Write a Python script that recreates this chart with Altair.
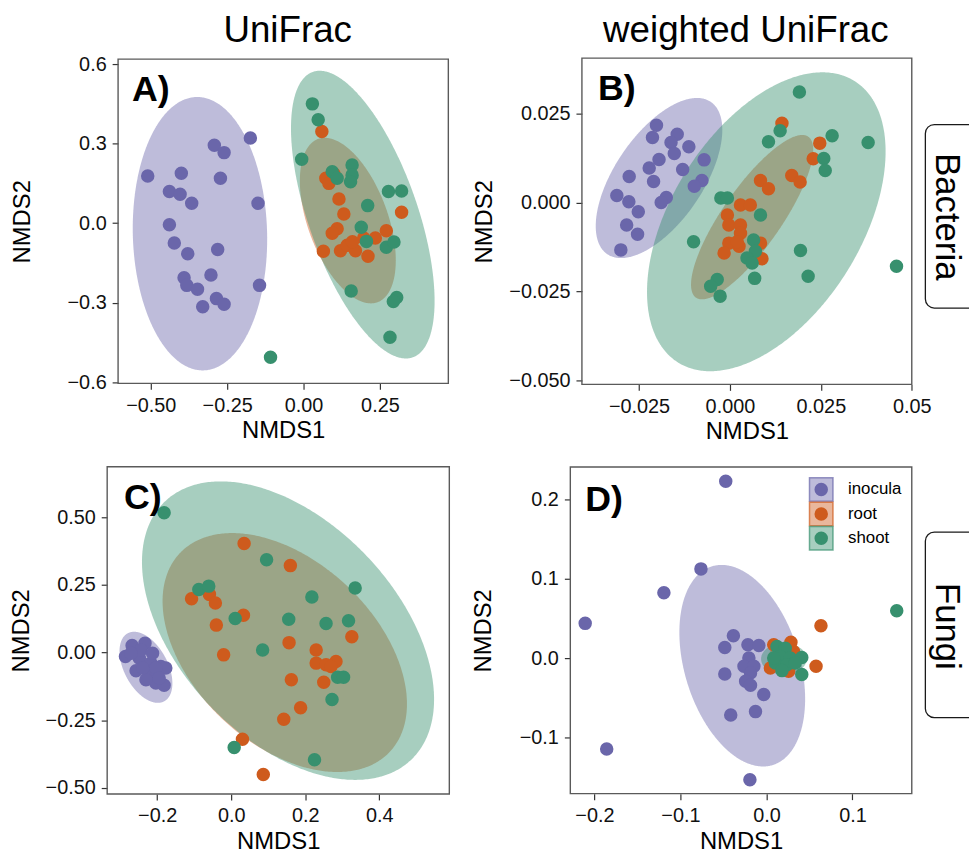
import altair as alt
import numpy as np
import pandas as pd

GROUPS = ["inocula", "root", "shoot"]
COLORS = ["#6A66AA", "#CE5B1D", "#37906E"]
FONT = "Liberation Sans"

# ---------------- Panel A (Bacteria, UniFrac) ----------------
A_inoc_x = [-0.510, -0.174, -0.292, -0.260, -0.400, -0.272, -0.439, -0.404, -0.366, -0.149, -0.439,
            -0.423, -0.379, -0.281, -0.391, -0.382, -0.347, -0.303, -0.144, -0.285, -0.260, -0.330]
A_inoc_y = [0.178, 0.321, 0.294, 0.266, 0.188, 0.169, 0.119, 0.109, 0.075, 0.075, -0.006,
            -0.075, -0.116, -0.100, -0.206, -0.235, -0.250, -0.196, -0.235, -0.285, -0.306, -0.316]
A_root_x = [0.060, 0.073, 0.083, 0.100, 0.116, 0.132, 0.110, 0.094, 0.321, 0.065, 0.121, 0.143,
            0.170, 0.211, 0.197, 0.235, 0.271, 0.160]
A_root_y = [0.346, 0.169, 0.150, 0.185, 0.091, 0.034, -0.021, -0.038, 0.041, -0.106, -0.104, -0.084,
            -0.104, -0.125, -0.056, -0.056, -0.029, -0.070]
A_shoot_x = [0.029, 0.048, -0.006, 0.094, 0.159, 0.159, 0.110, 0.154, 0.278, 0.321, 0.210, 0.189,
             0.206, 0.271, 0.296, 0.156, 0.305, 0.294, 0.283, -0.108]
A_shoot_y = [0.450, 0.390, 0.241, 0.194, 0.219, 0.181, 0.169, 0.156, 0.119, 0.121, 0.066, -0.016,
             -0.069, -0.091, -0.071, -0.256, -0.281, -0.296, -0.431, -0.506]

# ---------------- Panel B (Bacteria, weighted UniFrac) ----------------
B_inoc_x = [-0.0202, -0.0213, -0.0145, -0.0162, -0.0113, -0.0153, -0.0195, -0.0071, -0.0222, -0.0130, -0.0277,
            -0.0077, -0.0210, -0.0098, -0.0311, -0.0278, -0.0175, -0.0189, -0.0252, -0.0284, -0.0254, -0.0300]
B_inoc_y = [0.0217, 0.0183, 0.0192, 0.0169, 0.0157, 0.0138, 0.0121, 0.0120, 0.0097, 0.0093, 0.0073,
            0.0062, 0.0059, 0.0046, 0.0020, 0.0002, 0.0014, 0.0000, -0.0026, -0.0063, -0.0089, -0.0133]
B_root_x = [0.0143, 0.0247, 0.0229, 0.0084, 0.0106, 0.0170, 0.0193, 0.0029, 0.0056, -0.0007, -0.0003,
            0.0029, 0.0029, -0.0003, 0.0025, 0.0084, -0.0016, 0.0088, 0.0020]
B_root_y = [0.0223, 0.0167, 0.0123, 0.0062, 0.0039, 0.0076, 0.0058, -0.0007, -0.0007, -0.0035, -0.0063,
            -0.0063, -0.0086, -0.0114, -0.0123, -0.0114, -0.0142, -0.0158, -0.0110]
B_shoot_x = [0.0191, 0.0138, 0.0106, 0.0281, 0.0380, 0.0258, 0.0262, -0.0025, -0.0007, 0.0084, -0.0100,
             0.0065, 0.0194, 0.0070, 0.0047, 0.0061, 0.0458, 0.0215, 0.0068, -0.0035, -0.0053, -0.0027]
B_shoot_y = [0.0311, 0.0202, 0.0171, 0.0188, 0.0169, 0.0124, 0.0090, 0.0013, 0.0013, -0.0035, -0.0110,
             -0.0105, -0.0135, -0.0137, -0.0156, -0.0170, -0.0179, -0.0207, -0.0213, -0.0216, -0.0235, -0.0263]

# ---------------- Panel C (Fungi, UniFrac) ----------------
C_inoc_x = [-0.2856, -0.2677, -0.2329, -0.2481, -0.2169, -0.2570, -0.2213, -0.1901, -0.1767, -0.2035,
            -0.1812, -0.2303, -0.2436, -0.2704, -0.2124, -0.2035, -0.2392, -0.1946]
C_inoc_y = [-0.0146, 0.0256, 0.0342, -0.0207, -0.0390, -0.0671, -0.0817, -0.0512, -0.0573, -0.1122,
            -0.1208, -0.1000, 0.0098, -0.0024, -0.0024, -0.0573, -0.0573, -0.0939]
C_root_x = [0.0348, 0.1597, -0.1071, -0.0589, -0.0428, 0.0330, -0.0402, 0.1562, 0.3257, -0.0205, 0.2294,
            0.2294, 0.2561, 0.2829, 0.2695, 0.1624, 0.2499, 0.1874, 0.1419, 0.0303, 0.0866]
C_root_y = [0.4026, 0.3209, 0.1989, 0.2147, 0.1830, 0.1379, 0.1013, 0.0366, 0.0586, -0.0085, 0.0098,
            -0.0390, -0.0451, -0.0329, -0.0512, -0.1000, -0.1098, -0.2038, -0.2465, -0.3197, -0.4502]
C_shoot_x = [-0.1812, 0.0955, -0.0875, -0.0607, 0.0107, 0.2178, 0.3347, 0.1553, 0.2561, 0.3168, 0.0848,
             0.2874, 0.3034, 0.2722, 0.0080, 0.2249]
C_shoot_y = [0.5161, 0.3428, 0.2330, 0.2452, 0.1257, 0.2050, 0.2379, 0.1232, 0.1074, 0.1171, 0.0098,
             -0.0915, -0.0915, -0.1733, -0.3502, -0.3953]

# ---------------- Panel D (Fungi, weighted UniFrac) ----------------
D_inoc_x = [-0.0473, -0.0761, -0.1192, -0.2107, -0.1857, -0.0192, -0.0384, -0.0484, -0.0215, -0.0088,
            -0.0204, -0.0261, -0.0146, -0.0484, -0.0185, -0.0242, -0.0185, -0.0031, -0.0415, -0.0127]
D_inoc_y = [0.2229, 0.1125, 0.0825, 0.0438, -0.1146, -0.1533, 0.0283, 0.0133, 0.0167, 0.0158,
            0.0000, -0.0104, -0.0104, -0.0200, -0.0188, -0.0292, -0.0342, -0.0458, -0.0717, -0.0675]
D_root_x = [0.0634, 0.0577, 0.0085, 0.0285, 0.0258, 0.0046, 0.0315, 0.0160]
D_root_y = [0.0408, -0.0104, 0.0167, 0.0200, -0.0167, -0.0125, 0.0083, -0.0050]
D_shoot_x = [0.1515, 0.0123, 0.0219, 0.0161, 0.0277, 0.0411, 0.0104, 0.0238, 0.0334, 0.0411, 0.0181, 0.0085]
D_shoot_y = [0.0596, 0.0146, 0.0125, 0.0021, 0.0000, 0.0008, -0.0063, -0.0083, -0.0063, -0.0208, -0.0158, 0.0000]

# ellipse parameters: centre x, centre y, half x-extent, half y-extent,
# relative height of the right-most point (tilt)
A_ell = [(-0.339, -0.040, 0.220, 0.516, -0.04), (0.145, 0.0095, 0.157, 0.3125, -0.48), (0.194, 0.032, 0.235, 0.543, -0.60)]
B_ell = [(-0.0195, 0.0069, 0.0174, 0.0225, 0.60), (0.0061, -0.0041, 0.0168, 0.0231, 0.82), (0.0100, -0.0054, 0.0328, 0.0420, 0.47)]
C_ell = [(-0.2303, -0.0545, 0.0714, 0.1312, -0.45), (0.1446, 0.000, 0.330, 0.441, -0.43), (0.1534, 0.0809, 0.3944, 0.5509, -0.46)]
D_ell = [(-0.0281, -0.0096, 0.0731, 0.1271, -0.33), (0.022, 0.0, 0.020, 0.018, 0.0), (0.0203, -0.001, 0.0265, 0.0198, 0.0)]

# axis domains and ticks
A_xdom, A_ydom = [-0.607, 0.474], [-0.605, 0.619]
B_xdom, B_ydom = [-0.0407, 0.05], [-0.0511, 0.0406]
C_xdom, C_ydom = [-0.335, 0.589], [-0.522, 0.686]
D_xdom, D_ydom = [-0.228, 0.169], [-0.171, 0.241]
A_xt, A_yt = [-0.5, -0.25, 0, 0.25], [-0.6, -0.3, 0, 0.3, 0.6]
B_xt, B_yt = [-0.025, 0, 0.025, 0.05], [-0.05, -0.025, 0, 0.025]
C_xt, C_yt = [-0.2, 0, 0.2, 0.4], [-0.5, -0.25, 0, 0.25, 0.5]
D_xt, D_yt = [-0.2, -0.1, 0, 0.1], [-0.1, 0, 0.1, 0.2]

COL_TITLES = ["UniFrac", "weighted UniFrac"]
ROW_TITLES = ["Bacteria", "Fungi"]
PANEL_LABELS = ["A)", "B)", "C)", "D)"]

# layout (pixels inside the canvas)
VW, VH = 969, 846
BOX = {"A": (111, 444, 48, 375), "B": (578.7, 911.3, 47, 376),
       "C": (100, 445, 459, 789), "D": (567, 911.3, 459.3, 788.7)}


def points_df(xs_list, ys_list):
    rows = []
    for g, xs, ys in zip(GROUPS, xs_list, ys_list):
        for x, y in zip(xs, ys):
            rows.append({"group": g, "x": x, "y": y})
    return pd.DataFrame(rows)


def ellipse_df(g, p):
    cx, cy, rx, ry, rho = p
    t = np.linspace(0, np.pi, 241)
    d = np.arccos(rho)
    a = cy + ry * np.cos(t - d)
    b = cy + ry * np.cos(t + d)
    return pd.DataFrame({"group": g, "x": cx + rx * np.cos(t),
                         "lo": np.minimum(a, b), "hi": np.maximum(a, b)})


ONE = alt.Data(values=[{}])
COLOR = alt.Color("group:N", scale=alt.Scale(domain=GROUPS, range=COLORS), legend=None)


def panel(key, pts, ells, xdom, ydom, xt, yt, xfmt, yfmt, ytitle_x, xexpr=None):
    x0, x1, y0, y1 = BOX[key]
    xs = alt.Scale(domain=xdom, range=[x0, x1], nice=False, zero=False)
    ys = alt.Scale(domain=ydom, range=[y1, y0], nice=False, zero=False)
    xa = dict(values=xt, format=xfmt, title="NMDS1", orient="bottom", offset=y1 - VH,
              titleY=55, titleBaseline="alphabetic", labelFlush=False, labelOverlap=False)
    if xexpr:
        xa["labelExpr"] = xexpr
    xaxis = alt.Axis(**xa)
    yaxis = alt.Axis(values=yt, format=yfmt, title="NMDS2", orient="left", offset=-x0,
                     titleX=ytitle_x, titleBaseline="middle", labelOverlap=False)
    layers = []
    for g, p in zip(GROUPS, ells):
        layers.append(alt.Chart(ellipse_df(g, p)).mark_area(opacity=0.44).encode(
            x=alt.X("x:Q", scale=xs, axis=xaxis),
            y=alt.Y("lo:Q", scale=ys, axis=yaxis),
            y2="hi:Q", color=COLOR))
    for g in GROUPS:
        layers.append(alt.Chart(pts[pts.group == g]).mark_circle(size=185, opacity=1).encode(
            x=alt.X("x:Q", scale=xs, axis=xaxis),
            y=alt.Y("y:Q", scale=ys, axis=yaxis),
            color=COLOR))
    return alt.layer(*layers)


pA = points_df([A_inoc_x, A_root_x, A_shoot_x], [A_inoc_y, A_root_y, A_shoot_y])
pB = points_df([B_inoc_x, B_root_x, B_shoot_x], [B_inoc_y, B_root_y, B_shoot_y])
pC = points_df([C_inoc_x, C_root_x, C_shoot_x], [C_inoc_y, C_root_y, C_shoot_y])
pD = points_df([D_inoc_x, D_root_x, D_shoot_x], [D_inoc_y, D_root_y, D_shoot_y])

panels = [
    panel("A", pA, A_ell, A_xdom, A_ydom, A_xt, A_yt, ".2f", ".1f", -96.5),
    panel("B", pB, B_ell, B_xdom, B_ydom, B_xt, B_yt, ".3f", ".3f", -98.2,
          xexpr="datum.value == 0.05 ? '0.05' : format(datum.value, '.3f')"),
    panel("C", pC, C_ell, C_xdom, C_ydom, C_xt, C_yt, ".1f", ".2f", -86.3),
    panel("D", pD, D_ell, D_xdom, D_ydom, D_xt, D_yt, ".1f", ".1f", -87),
]


def txt(text, x, y, size, **kw):
    return alt.Chart(ONE).mark_text(text=text, font=FONT, fontSize=size, color="black", **kw).encode(
        x=alt.value(x), y=alt.value(y))


deco = []
# panel frames
for key in ["A", "B", "C", "D"]:
    x0, x1, y0, y1 = BOX[key]
    deco.append(alt.Chart(ONE).mark_rect(fillOpacity=0, stroke="#5a5a5a", strokeWidth=1.4).encode(
        x=alt.value(x0), x2=alt.value(x1), y=alt.value(y0), y2=alt.value(y1)))
# panel letters
for lab, (px, py) in zip(PANEL_LABELS, [(125, 90), (595, 89), (117, 502), (582, 504)]):
    deco.append(txt(lab, px, py, 36, fontWeight="bold", align="left", baseline="alphabetic"))
# column titles
deco.append(txt(COL_TITLES[0], 282, 31, 37, align="center", baseline="alphabetic"))
deco.append(txt(COL_TITLES[1], 744, 31, 37, align="center", baseline="alphabetic"))
# row strips (the strip boxes run off the right edge of the figure, as in the original)
for lab, (ya, yb), yc in zip(ROW_TITLES, [(114, 299), (525, 712)], [207, 620]):
    deco.append(alt.Chart(ONE).mark_rect(fill="white", stroke="#1a1a1a", strokeWidth=1.3,
                                         cornerRadius=9).encode(
        x=alt.value(925), x2=alt.value(990), y=alt.value(ya), y2=alt.value(yb)))
    deco.append(txt(lab, 946.5, yc, 35, angle=90, align="center", baseline="middle"))
# legend inside panel D
for i, (g, c) in enumerate(zip(GROUPS, COLORS)):
    yy = 482 + i * 24.6
    deco.append(alt.Chart(ONE).mark_square(size=560, fill=c, fillOpacity=0.44, stroke=c,
                                           strokeOpacity=0.7, strokeWidth=1.5).encode(
        x=alt.value(820), y=alt.value(yy)))
    deco.append(alt.Chart(ONE).mark_circle(size=185, color=c, opacity=1).encode(
        x=alt.value(820), y=alt.value(yy)))
    deco.append(txt(g, 847, yy, 17, align="left", baseline="middle"))

chart = alt.layer(*panels, *deco).resolve_scale(
    x="independent", y="independent"
).properties(
    width=VW, height=VH, padding=0, background="white",
    autosize=alt.AutoSizeParams(type="none")
).configure_view(
    stroke=None
).configure_axis(
    labelFont=FONT, labelFontSize=20, labelColor="#111111", labelPadding=6,
    tickColor="#333333", tickSize=6, tickWidth=1.2,
    domain=False, grid=False,
    titleFont=FONT, titleFontSize=24, titleFontWeight="normal", titleColor="black"
)

chart.save("out.html", embed_options={"renderer": "svg", "actions": False})
